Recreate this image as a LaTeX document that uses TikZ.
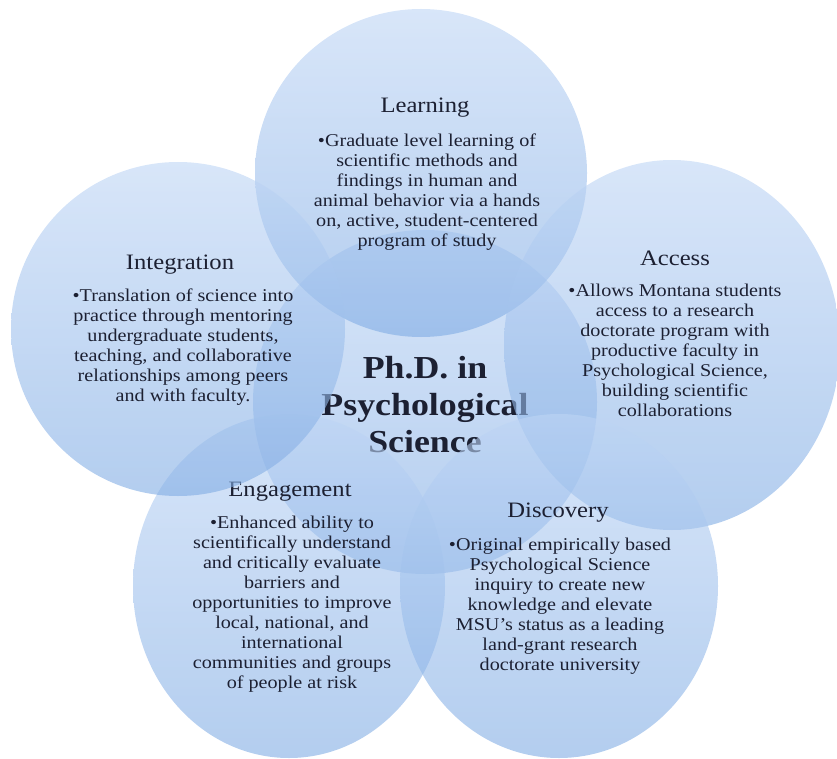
\documentclass[tikz,border=0pt]{standalone}
\usepackage{fontspec}
\setmainfont{Liberation Serif}[FakeStretch=1.12]
\usetikzlibrary{shapes.geometric}
\definecolor{ctop}{RGB}{190,213,245}
\definecolor{cbot}{RGB}{128,172,228}
\definecolor{txt}{RGB}{28,32,50}
\tikzset{
  bubble/.style={ellipse, inner sep=0pt, top color=ctop, bottom color=cbot, fill opacity=0.6, draw=none},
  head/.style={font=\fontsize{22}{26}\selectfont, text=txt, inner sep=0pt},
  body/.style={font=\fontsize{18}{20}\selectfont, text=txt, align=center, inner sep=0pt},
  hub/.style={font=\bfseries\fontsize{32}{37}\selectfont, text=txt, align=center, inner sep=0pt},
}
\begin{document}
\begin{tikzpicture}[x=1pt,y=-1pt]
\useasboundingbox (0,0) rectangle (837,759);
% centre
\node[bubble, minimum width=344pt, minimum height=344pt] (hubc) at (425,402) {};
\node[hub] (hubt) at (425,405) {Ph.D. in\\Psychological\\Science};
% Learning
\node[bubble, minimum width=332pt, minimum height=328pt] (learnc) at (421,173) {};
\node[head] (learnh) at (425,108) {Learning};
\node[body] (learnb) at (427,192) {•Graduate level learning of\\scientific methods and\\findings in human and\\animal behavior via a hands\\on, active, student-centered\\program of study};
% Access
\node[bubble, minimum width=336pt, minimum height=370pt] (accc) at (672,345) {};
\node[head] (acch) at (675,258) {Access};
\node[body] (accb) at (675,350) {•Allows Montana students\\access to a research\\doctorate program with\\productive faculty in\\Psychological Science,\\building scientific\\collaborations};
% Discovery
\node[bubble, minimum width=318pt, minimum height=344pt] (discc) at (559,586) {};
\node[head] (disch) at (558,513) {Discovery};
\node[body] (discb) at (560,606) {•Original empirically based\\Psychological Science\\inquiry to create new\\knowledge and elevate\\MSU’s status as a leading\\land-grant research\\doctorate university};
% Engagement
\node[bubble, minimum width=312pt, minimum height=344pt] (engc) at (289,586) {};
\node[head] (engh) at (290,492) {Engagement};
\node[body] (engb) at (292,604) {•Enhanced ability to\\scientifically understand\\and critically evaluate\\barriers and\\opportunities to improve\\local, national, and\\international\\communities and groups\\of people at risk};
% Integration
\node[bubble, minimum width=334pt, minimum height=334pt] (intc) at (178,329) {};
\node[head] (inth) at (180,265) {Integration};
\node[body] (intb) at (183,347) {•Translation of science into\\practice through mentoring\\undergraduate students,\\teaching, and collaborative\\relationships among peers\\and with faculty.};
\end{tikzpicture}
\end{document}
